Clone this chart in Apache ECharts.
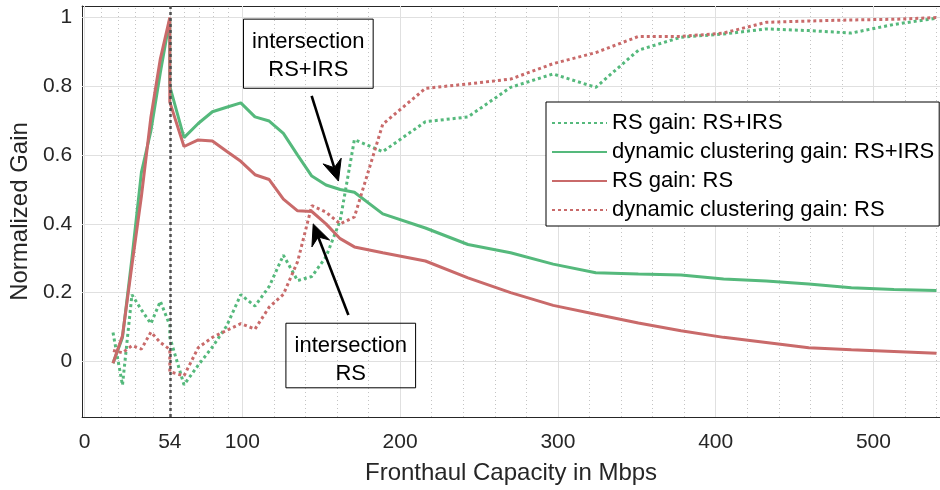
<!DOCTYPE html>
<html><head><meta charset="utf-8">
<script src="https://cdn.jsdelivr.net/npm/echarts@6/dist/echarts.min.js"></script>
<style>html,body{margin:0;padding:0;background:#fff}#c{width:940px;height:490px}</style>
</head><body><div id="c"></div>
<script>
// ---- data ----
const capacity = [18,24,30,36,42,48,54,54,63,72,81,90,99,108,117,126,135,144,153,162,171,189,216,243,270,297,324,351,378,405,432,459,486,513,540];
const rsGainRsIrs = [0.084,-0.069,0.194,0.150,0.110,0.175,0.105,0.070,-0.068,-0.011,0.042,0.103,0.194,0.161,0.218,0.309,0.235,0.247,0.304,0.410,0.645,0.610,0.697,0.711,0.797,0.836,0.797,0.905,0.943,0.952,0.967,0.962,0.955,0.980,0.998];
const dcGainRsIrs = [-0.005,0.070,0.300,0.550,0.670,0.840,0.995,0.800,0.651,0.692,0.726,0.739,0.752,0.711,0.699,0.663,0.600,0.539,0.513,0.500,0.492,0.429,0.388,0.340,0.316,0.283,0.258,0.254,0.251,0.240,0.234,0.225,0.214,0.209,0.206];
const rsGainRs = [-0.005,0.075,0.280,0.480,0.710,0.880,1.000,0.754,0.625,0.644,0.641,0.611,0.582,0.543,0.529,0.472,0.438,0.436,0.400,0.357,0.333,0.316,0.292,0.243,0.200,0.163,0.137,0.112,0.089,0.070,0.055,0.040,0.034,0.029,0.024];
const dcGainRs = [0.032,0.025,0.046,0.036,0.085,0.055,0.035,-0.030,-0.042,0.040,0.070,0.090,0.110,0.094,0.158,0.195,0.290,0.453,0.434,0.400,0.420,0.690,0.794,0.807,0.821,0.866,0.898,0.945,0.945,0.955,0.986,0.990,0.993,0.995,1.000];
const seriesNames = ['RS gain: RS+IRS','dynamic clustering gain: RS+IRS','RS gain: RS','dynamic clustering gain: RS'];
const xTicks = [0,54,100,200,300,400,500];
const xMinorTicks = [10.8,21.6,32.4,43.2,63.2,72.4,81.6,90.8,120,140,160,180,220,240,260,280,320,340,360,380,420,440,460,480,520,540];
const yTicks = [0,0.2,0.4,0.6,0.8,1];
const markerX = 54;
const xLabel = 'Fronthaul Capacity in Mbps';
const yLabel = 'Normalized Gain';
const noteRsIrs = ['intersection','RS+IRS'];
const noteRs = ['intersection','RS'];

// ---- style ----
const FONT = '"Liberation Sans", Arial, Helvetica, sans-serif';
const AX = '#262626';
const GREEN = '#55b97c';
const RED = '#c96a6a';
const DOT = [3, 3];

const pairs = ys => capacity.map((x, i) => [x, ys[i]]);

const chart = echarts.init(document.getElementById('c'), null, {renderer: 'canvas'});

const gridLines = [];
xMinorTicks.forEach(v => gridLines.push({xAxis: v, lineStyle: {color: '#c4c4c4', type: [1, 3], width: 1}}));
xTicks.forEach(v => gridLines.push({xAxis: v, lineStyle: {color: '#e0e0e0', type: 'solid', width: 1}}));
yTicks.forEach(v => gridLines.push({yAxis: v, lineStyle: {color: '#e0e0e0', type: 'solid', width: 1}}));

function lineSeries(name, ys, color, dotted) {
  return {
    name, type: 'line', data: pairs(ys), symbol: 'none', showSymbol: false,
    smooth: false, animation: false, silent: true, z: 3,
    lineStyle: {color, width: 3, type: dotted ? DOT : 'solid', cap: 'butt'},
    itemStyle: {color}
  };
}

const option = {
  animation: false,
  backgroundColor: '#fff',
  textStyle: {fontFamily: FONT},
  grid: {left: 80, right: 0, top: 6, bottom: 68, containLabel: false},
  xAxis: [{
    type: 'value', min: -1.6, max: 542.2, position: 'bottom',
    axisLine: {show: true, onZero: false, lineStyle: {color: AX, width: 1}},
    axisTick: {show: true, inside: true, length: 9, customValues: xTicks, lineStyle: {color: AX}},
    axisLabel: {show: true, customValues: xTicks, margin: 15, fontSize: 21, color: AX, fontFamily: FONT},
    splitLine: {show: false},
    name: xLabel, nameLocation: 'middle', nameGap: 44,
    nameTextStyle: {fontSize: 24, color: AX, fontFamily: FONT}
  }, {
    type: 'value', min: -1.6, max: 542.2, position: 'top',
    axisLine: {show: true, onZero: false, lineStyle: {color: AX, width: 1}},
    axisTick: {show: true, inside: true, length: 9, customValues: xTicks, lineStyle: {color: AX}},
    axisLabel: {show: false}, splitLine: {show: false}
  }],
  yAxis: [{
    type: 'value', min: -0.1616, max: 1.0336, position: 'left',
    axisLine: {show: true, onZero: false, lineStyle: {color: AX, width: 1}},
    axisTick: {show: true, inside: true, length: 9, customValues: yTicks, lineStyle: {color: AX}},
    axisLabel: {show: true, customValues: yTicks, margin: 10, fontSize: 21, color: AX, fontFamily: FONT},
    splitLine: {show: false},
    name: yLabel, nameLocation: 'middle', nameGap: 46,
    nameTextStyle: {fontSize: 24, color: AX, fontFamily: FONT}
  }],
  legend: {
    show: true, orient: 'vertical', left: 546, top: 102,
    padding: [10, 5, 5, 5], itemWidth: 55, itemHeight: 14, itemGap: 7,
    backgroundColor: '#fff', borderColor: '#000', borderWidth: 1, borderRadius: 0,
    selectedMode: false,
    itemStyle: {opacity: 0, borderWidth: 0},
    textStyle: {fontSize: 22, color: '#000', fontFamily: FONT, lineHeight: 22},
    data: seriesNames
  },
  series: [
    {
      name: 'grid', type: 'line', data: [], silent: true, z: 1,
      markLine: {silent: true, symbol: 'none', z: 1, animation: false, label: {show: false}, data: gridLines}
    },
    lineSeries(seriesNames[0], rsGainRsIrs, GREEN, true),
    lineSeries(seriesNames[1], dcGainRsIrs, GREEN, false),
    lineSeries(seriesNames[2], rsGainRs, RED, false),
    Object.assign(lineSeries(seriesNames[3], dcGainRs, RED, true), {
      markLine: {silent: true, symbol: 'none', z: 6, animation: false, label: {show: false},
        data: [{xAxis: markerX, lineStyle: {color: '#505050', type: [3, 3], width: 2.5}}]}
    })
  ]
};
chart.setOption(option);

// ---- annotations (anchored in data coordinates) ----
const boxes = [
  {lt: [100.7, 0.9954], rb: [182.9, 0.7944], lines: noteRsIrs},
  {lt: [127.6, 0.1111], rb: [209.8, -0.0767], lines: noteRs}
];
const arrows = [
  {tail: [143.9, 0.7723], tip: [160.9, 0.5245]},
  {tail: [167.2, 0.1349], tip: [144.9, 0.4000]}
];
const px = p => chart.convertToPixel({gridIndex: 0}, p);
const graphics = [];
boxes.forEach(b => {
  const a = px(b.lt), c = px(b.rb);
  graphics.push({type: 'rect', shape: {x: a[0], y: a[1], width: c[0] - a[0], height: c[1] - a[1]},
    style: {fill: 'none', stroke: '#000', lineWidth: 1}, z: 20, silent: true});
  const cx = (a[0] + c[0]) / 2;
  b.lines.forEach((t, i) => graphics.push({type: 'text', x: cx, y: a[1] + 23 + i * 27.5, z: 21, silent: true,
    style: {text: t, fontSize: 22, fontFamily: FONT, fill: '#000', align: 'center', verticalAlign: 'middle'}}));
});
arrows.forEach(ar => {
  const T = px(ar.tail), P = px(ar.tip);
  const dx = P[0] - T[0], dy = P[1] - T[1], len = Math.hypot(dx, dy);
  const ux = dx / len, uy = dy / len, nx = -uy, ny = ux;
  const L = 21, W = 9.5, B = 14;
  graphics.push({type: 'line', z: 20, silent: true,
    shape: {x1: T[0], y1: T[1], x2: P[0] - B * ux, y2: P[1] - B * uy},
    style: {stroke: '#000', lineWidth: 2.6}});
  graphics.push({type: 'polygon', z: 20, silent: true,
    shape: {points: [[P[0], P[1]], [P[0] - L * ux + W * nx, P[1] - L * uy + W * ny], [P[0] - B * ux, P[1] - B * uy], [P[0] - L * ux - W * nx, P[1] - L * uy - W * ny]]},
    style: {fill: '#000', stroke: '#000', lineWidth: 1}});
});
chart.setOption({graphic: graphics});
</script>
</body></html>
